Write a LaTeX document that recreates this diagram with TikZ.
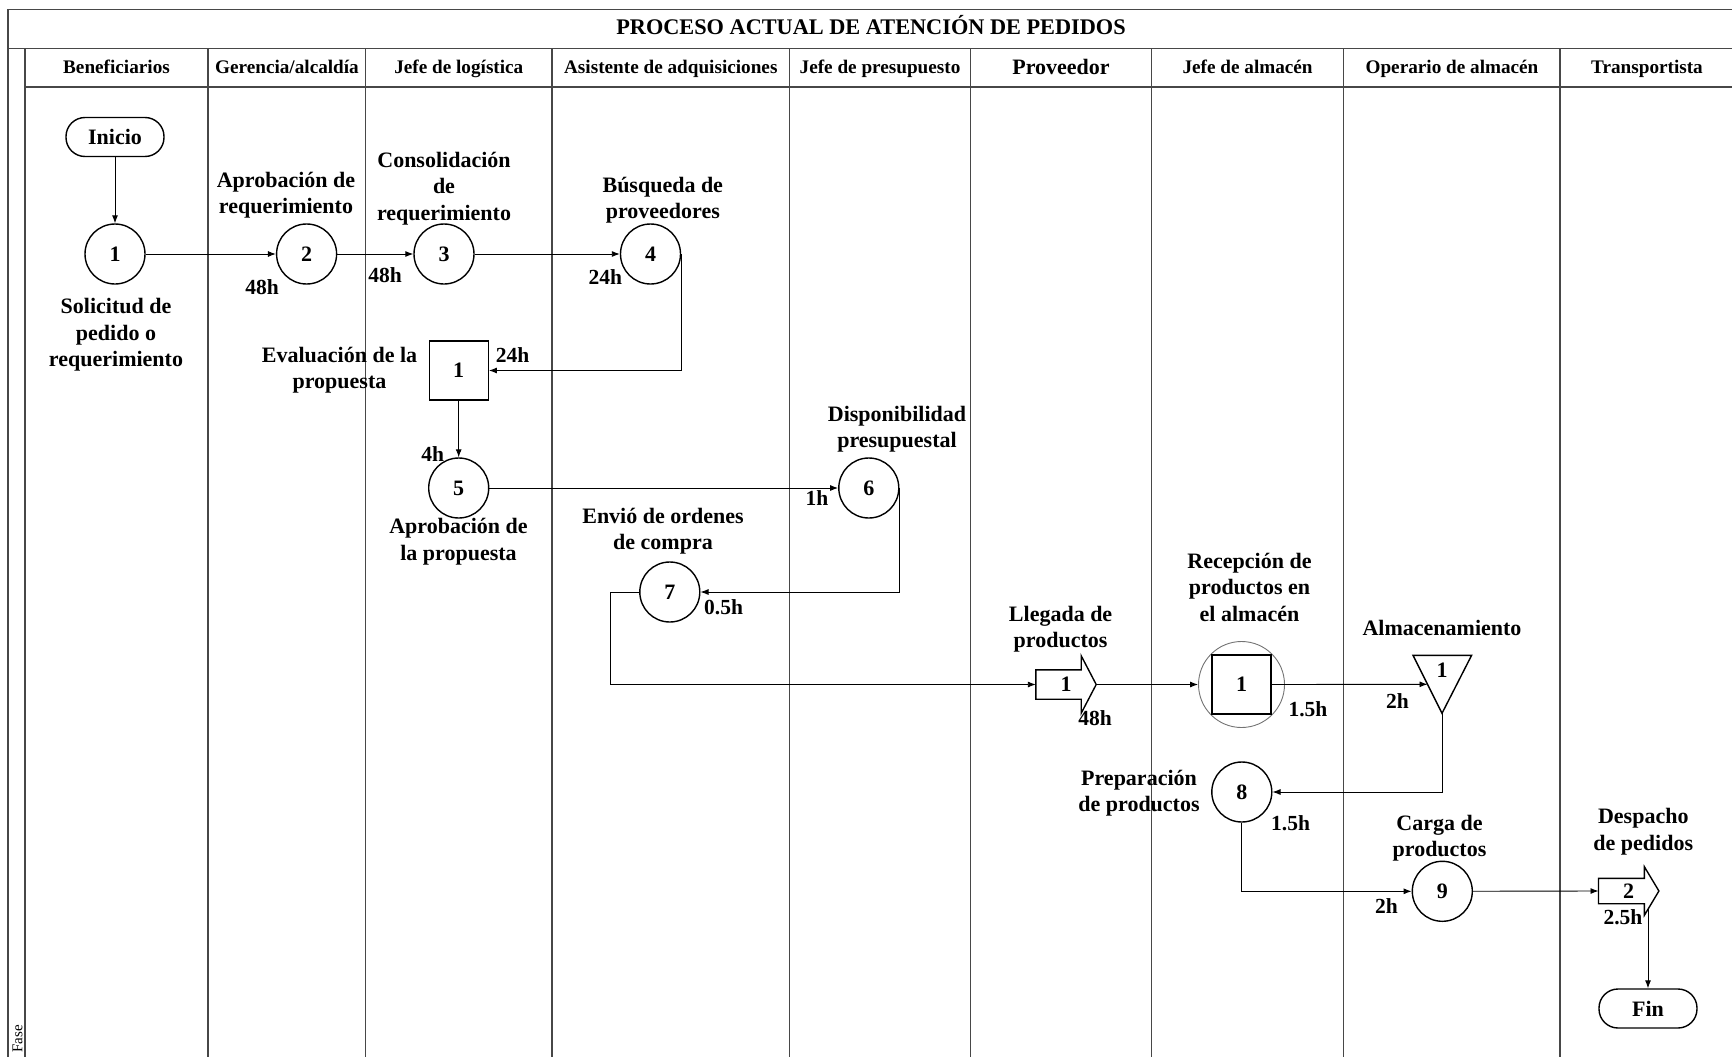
\documentclass[tikz,border=0pt]{standalone}
\usepackage{fontspec}
\setmainfont{Liberation Serif}
\usetikzlibrary{arrows.meta,calc}
\begin{document}
\begin{tikzpicture}[x=1pt,y=-1pt,
  grid/.style={draw=black!72, line width=1.3pt},
  lbl/.style={font=\fontsize{22}{26.5}\selectfont\bfseries, align=center, inner sep=0pt},
  hdr/.style={font=\fontsize{19.2}{23}\selectfont\bfseries, inner sep=0pt, anchor=base},
  tm/.style={font=\fontsize{21.5}{25}\selectfont\bfseries, inner sep=0pt},
  op/.style={circle, draw, line width=1.4pt, minimum size=60pt, inner sep=0pt, font=\fontsize{22}{26}\selectfont\bfseries},
  insp/.style={rectangle, draw, line width=1.4pt, minimum size=59pt, inner sep=0pt, font=\fontsize{22}{26}\selectfont\bfseries},
  term/.style={rectangle, rounded corners=19pt, draw, line width=1.4pt, minimum width=98pt, minimum height=39pt, inner sep=0pt, font=\fontsize{22}{26}\selectfont\bfseries},
  trans/.style={rectangle, minimum width=60pt, inner sep=0pt, font=\fontsize{22}{26}\selectfont\bfseries},
  flow/.style={line width=0.9pt, -{Latex[length=8pt,width=6pt]}},
  shapeline/.style={line width=1.4pt},
]
\useasboundingbox (0,0) rectangle (1732,1057);

% --- swimlane table ---
\draw[grid] (8,1057) -- (8,9.5) -- (1732,9.5);
\draw[grid] (8,48.6) -- (1732,48.6);
\draw[grid] (25,87) -- (1732,87);
\foreach \xx in {25,208,365.6,552,789.5,970.5,1151.4,1343.8,1560}
  \draw[grid] (\xx,48.6) -- (\xx,1057);

\node[font=\fontsize{22.3}{26}\selectfont\bfseries, inner sep=0pt, anchor=base] (title) at (871,35) {PROCESO ACTUAL DE ATENCIÓN DE PEDIDOS};

\node[hdr] (h1) at (116.5,74) {Beneficiarios};
\node[hdr] (h2) at (287,74) {Gerencia/alcaldía};
\node[hdr] (h3) at (458.8,74) {Jefe de logística};
\node[hdr] (h4) at (670.8,74) {Asistente de adquisiciones};
\node[hdr] (h5) at (880,74) {Jefe de presupuesto};
\node[hdr, font=\fontsize{22}{26}\selectfont\bfseries] (h6) at (1061,74.5) {Proveedor};
\node[hdr] (h7) at (1247.6,74) {Jefe de almacén};
\node[hdr] (h8) at (1452,74) {Operario de almacén};
\node[hdr] (h9) at (1647,74) {Transportista};

\node[rotate=90, font=\fontsize{15}{18}\selectfont, inner sep=0pt] (fase) at (17.5,1039) {Fase};

% --- process symbols ---
\node[term] (inicio) at (115,137) {Inicio};
\node[op] (c1) at (115,254) {1};
\node[op] (c2) at (306.6,254) {2};
\node[op] (c3) at (444,254) {3};
\node[op] (c4) at (650.5,254) {4};
\node[insp] (sq) at (458.7,370.5) {1};
\node[op] (c5) at (458.7,488) {5};
\node[op] (c6) at (868.8,488) {6};
\node[op] (c7) at (669.8,592) {7};

% transport 1
\node[trans, minimum height=29pt] (tr1) at (1066,684.5) {1};
\draw[shapeline] (tr1.north west) -- ([xshift=-15pt]tr1.north east) -- ++(0,-14)
  -- (tr1.east) -- ([xshift=-15pt,yshift=-14pt]tr1.south east)
  -- ([xshift=-15pt]tr1.south east) -- (tr1.south west) -- cycle;

% combined operation / inspection
\node[circle, draw=black!55, line width=0.9pt, minimum size=86pt, inner sep=0pt] (rc) at (1241.5,684.5) {};
\node[insp] (rs) at (1241.5,684.5) {1};

% storage
\coordinate (tA) at (1413,655.3);
\coordinate (tB) at (1471.6,655.3);
\coordinate (tC) at (1442,713.3);
\draw[shapeline] (tA) -- (tB) -- (tC) -- cycle;
\node[font=\fontsize{22}{26}\selectfont\bfseries, inner sep=0pt] (st) at (1442,670) {1};
\coordinate (tL) at ($(tA)!0.5!(tC)$);

\node[op] (c8) at (1241.8,792) {8};
\node[op] (c9) at (1442.3,891.3) {9};

% transport 2
\node[trans, minimum height=25pt] (tr2) at (1628.7,891) {2};
\draw[shapeline] (tr2.north west) -- ([xshift=-14.5pt]tr2.north east) -- ++(0,-11.5)
  -- (tr2.east) -- ([xshift=-14.5pt,yshift=-11.5pt]tr2.south east)
  -- ([xshift=-14.5pt]tr2.south east) -- (tr2.south west) -- cycle;
\coordinate (tr2out) at (1648,909);

\node[term] (fin) at (1648,1008.5) {Fin};

% --- labels ---
\node[lbl] (l1) at (116,335) {Solicitud de\\pedido o\\requerimiento};
\node[lbl] (l2) at (286,195) {Aprobación de\\requerimiento};
\node[lbl] (l3) at (444,188.5) {Consolidación\\de\\requerimiento};
\node[lbl] (l4) at (662.8,200) {Búsqueda de\\proveedores};
\node[lbl] (li) at (339.5,370) {Evaluación de la\\propuesta};
\node[lbl] (l5) at (458.5,541.7) {Aprobación de\\la propuesta};
\node[lbl] (l6) at (897,429) {Disponibilidad\\presupuestal};
\node[lbl] (l7) at (663,531) {Envió de ordenes\\de compra};
\node[lbl] (lt1) at (1060.6,629.3) {Llegada de\\productos};
\node[lbl] (lrc) at (1249.5,587) {Recepción de\\productos en\\el almacén};
\node[lbl] (lst) at (1442,628.3) {Almacenamiento};
\node[lbl] (l8) at (1139,793.3) {Preparación\\de productos};
\node[lbl] (l9) at (1439.5,838.3) {Carga de\\productos};
\node[lbl] (lt2) at (1643.3,831.7) {Despacho\\de pedidos};

% --- times ---
\node[tm] (t2) at (262,286.7) {48h};
\node[tm] (t3) at (385,275) {48h};
\node[tm] (t4) at (605.3,277.3) {24h};
\node[tm] (ti) at (512.5,355) {24h};
\node[tm] (t5) at (432.6,454) {4h};
\node[tm] (t6) at (817,498.3) {1h};
\node[tm] (t7) at (723.6,607) {0.5h};
\node[tm] (tt1) at (1095,718.3) {48h};
\node[tm] (trc) at (1308,709.3) {1.5h};
\node[tm] (tst) at (1397.5,700.7) {2h};
\node[tm] (t8) at (1290.6,822.7) {1.5h};
\node[tm] (t9) at (1386.4,906) {2h};
\node[tm] (tt2) at (1623,916.7) {2.5h};

% --- connectors ---
\draw[flow] (inicio) -- (c1);
\draw[flow] (c1) -- (c2);
\draw[flow] (c2) -- (c3);
\draw[flow] (c3) -- (c4);
\draw[flow] (c4.east) |- (sq.east);
\draw[flow] (sq) -- (c5);
\draw[flow] (c5) -- (c6);
\draw[flow] (c6.east) |- (c7.east);
\draw[flow] (c7.west) -- ++(-29,0) |- (tr1.west);
\draw[flow] (tr1.east) -- (rc.west);
\draw[flow] (rs.east) -- (tL);
\draw[flow] (tC) |- (c8.east);
\draw[flow] (c8.south) |- (c9.west);
\draw[flow] (c9) -- (tr2.west);
\draw[flow] (tr2out) -- (fin.north);
\end{tikzpicture}
\end{document}
